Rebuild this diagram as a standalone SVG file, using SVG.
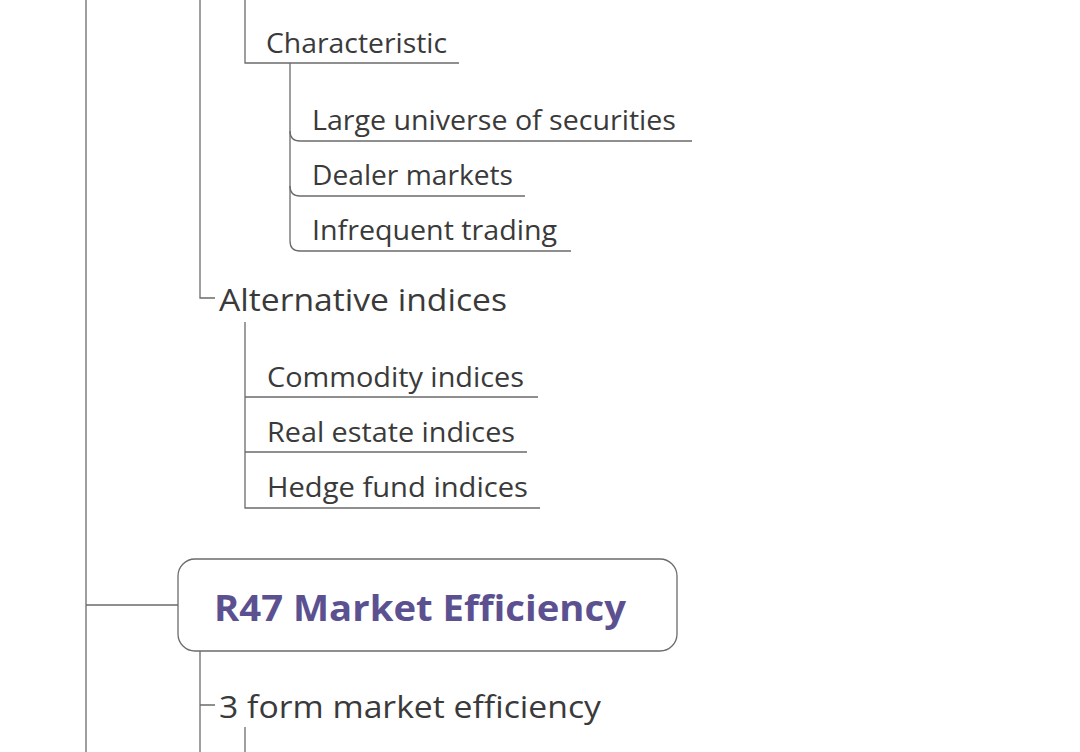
<svg xmlns="http://www.w3.org/2000/svg" width="1080" height="752" viewBox="0 0 1080 752">
<style>
.ln{fill:none;stroke:#6b6b6b;stroke-width:1.3}
.t{font-family:"Open Sans","Noto Sans","Liberation Sans",sans-serif;fill:#3a3a3a}
.s{font-size:27px}
.m{font-size:31px}
.r{font-family:"Open Sans","Noto Sans","Liberation Sans",sans-serif;font-weight:bold;font-size:35px;fill:#5c5190}
</style>
<rect width="1080" height="752" fill="#ffffff"/>
<g id="connectors">
<path class="ln" d="M86,0 V752 M86,605 H178"/>
<path class="ln" d="M200,0 V298 H215"/>
<path class="ln" d="M200,651 V752 M200,705 H215"/>
<path class="ln" d="M245,0 V63 H459"/>
<path class="ln" d="M290,63 V131 Q290,141 300,141 H692"/>
<path class="ln" d="M290,131 V186 Q290,196 300,196 H525"/>
<path class="ln" d="M290,186 V241 Q290,251 300,251 H571"/>
<path class="ln" d="M245,322 V508 H540 M245,397 H538 M245,452 H527"/>
<path class="ln" d="M245,727 V752"/>
</g>
<g id="n-characteristic"><text class="t s" x="266" y="53" textLength="181" lengthAdjust="spacingAndGlyphs">Characteristic</text></g>
<g id="n-large"><text class="t s" x="312" y="130" textLength="364" lengthAdjust="spacingAndGlyphs">Large universe of securities</text></g>
<g id="n-dealer"><text class="t s" x="312" y="185" textLength="201" lengthAdjust="spacingAndGlyphs">Dealer markets</text></g>
<g id="n-infrequent"><text class="t s" x="312" y="240" textLength="245" lengthAdjust="spacingAndGlyphs">Infrequent trading</text></g>
<g id="n-alternative"><text class="t m" x="219" y="311" textLength="288" lengthAdjust="spacingAndGlyphs">Alternative indices</text></g>
<g id="n-commodity"><text class="t s" x="267" y="387" textLength="257" lengthAdjust="spacingAndGlyphs">Commodity indices</text></g>
<g id="n-realestate"><text class="t s" x="267" y="442" textLength="248" lengthAdjust="spacingAndGlyphs">Real estate indices</text></g>
<g id="n-hedge"><text class="t s" x="267" y="497" textLength="261" lengthAdjust="spacingAndGlyphs">Hedge fund indices</text></g>
<g id="n-r47">
<rect x="178" y="559" width="499" height="92" rx="17" fill="#ffffff" stroke="#6b6b6b" stroke-width="1.3"/>
<text class="r" x="214" y="621" textLength="412" lengthAdjust="spacingAndGlyphs">R47 Market Efficiency</text>
</g>
<g id="n-3form"><text class="t m" x="219" y="718" textLength="382" lengthAdjust="spacingAndGlyphs">3 form market efficiency</text></g>
</svg>
